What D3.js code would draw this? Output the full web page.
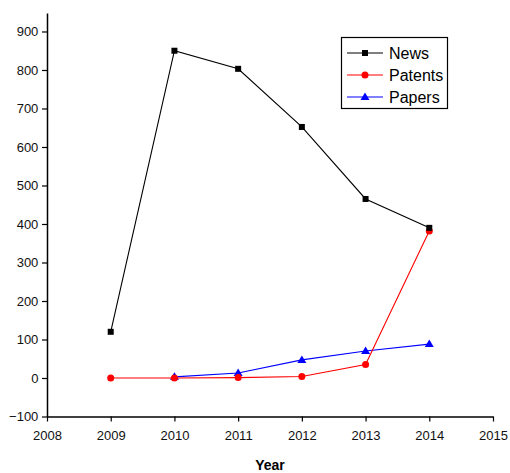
<!DOCTYPE html>
<html><head><meta charset="utf-8">
<script src="https://cdn.jsdelivr.net/npm/d3@7"></script>
<style>body{margin:0;background:#fff}svg{display:block}text{font-family:Arial,"Liberation Sans",sans-serif}</style>
</head><body><svg id="c" width="510" height="473"></svg>
<script>
const years = [2009, 2010, 2011, 2012, 2013, 2014];
const news = [120, 850, 803, 652, 465, 390];
const patents = [0, 0, 1, 4, 35, 382];
const paperYears = [2010, 2011, 2012, 2013, 2014];
const papers = [3, 13, 47, 70, 88];
const xTicks = [2008, 2009, 2010, 2011, 2012, 2013, 2014, 2015];
const yTicks = [-100, 0, 100, 200, 300, 400, 500, 600, 700, 800, 900];

const svg = d3.select("#c");
const x = d3.scaleLinear().domain([2008, 2015]).range([47, 493]);
const y = d3.scaleLinear().domain([-100, 948]).range([416.5, 13]);

const xAxis = svg.append("g").attr("transform", `translate(0,${y(-100)})`)
  .call(d3.axisBottom(x).tickValues(xTicks).tickFormat(d3.format("d")).tickSize(5).tickSizeOuter(0));
const yAxis = svg.append("g").attr("transform", `translate(${x(2008)},0)`)
  .call(d3.axisLeft(y).tickValues(yTicks).tickSize(5).tickSizeOuter(0));
[xAxis, yAxis].forEach(g => {
  g.select(".domain").attr("stroke", "#000").attr("stroke-width", 1.5);
  g.selectAll(".tick line").attr("stroke", "#000").attr("stroke-width", 1.2);
  g.selectAll("text").attr("font-size", 13).attr("fill", "#111").attr("font-family", "Arial, 'Liberation Sans', sans-serif");
});
xAxis.selectAll("text").attr("dy", "1.2em");
yAxis.selectAll("text").attr("dx", "-0.05em");

svg.append("text").attr("x", x(2011.5)).attr("y", 470).attr("text-anchor", "middle")
  .attr("font-size", 14).attr("font-weight", "bold").text("Year");

const line = d3.line().x(d => x(d[0])).y(d => y(d[1]));
const series = [
  {name: "News", xs: years, vs: news, color: "#000", marker: "square"},
  {name: "Patents", xs: years, vs: patents, color: "#f00", marker: "circle"},
  {name: "Papers", xs: paperYears, vs: papers, color: "#00f", marker: "triangle"}
];
function drawMarker(g, type, cx, cy, color) {
  if (type === "square") g.append("rect").attr("x", cx - 3).attr("y", cy - 3).attr("width", 6).attr("height", 6).attr("fill", color);
  else if (type === "circle") g.append("circle").attr("cx", cx).attr("cy", cy).attr("r", 3.5).attr("fill", color);
  else g.append("path").attr("d", `M${cx},${cy - 4.5}L${cx + 4.5},${cy + 3}L${cx - 4.5},${cy + 3}Z`).attr("fill", color);
}
[series[2], series[1], series[0]].forEach(s => {
  const pts = s.xs.map((xx, i) => [xx, s.vs[i]]);
  svg.append("path").attr("d", line(pts)).attr("fill", "none").attr("stroke", s.color).attr("stroke-width", 1.1);
  const g = svg.append("g");
  pts.forEach(p => drawMarker(g, s.marker, x(p[0]), y(p[1]), s.color));
});

const lg = svg.append("g");
lg.append("rect").attr("x", 341.5).attr("y", 37.5).attr("width", 106).attr("height", 71)
  .attr("fill", "#fff").attr("stroke", "#000").attr("stroke-width", 1.2);
series.forEach((s, i) => {
  const ly = 53 + i * 22;
  lg.append("line").attr("x1", 347).attr("x2", 383).attr("y1", ly).attr("y2", ly).attr("stroke", s.color).attr("stroke-width", 1.1);
  drawMarker(lg, s.marker, 365, ly, s.color);
  lg.append("text").attr("x", 389).attr("y", ly + 5.5).attr("font-size", 16).attr("fill", "#000").text(s.name);
});
</script></body></html>
